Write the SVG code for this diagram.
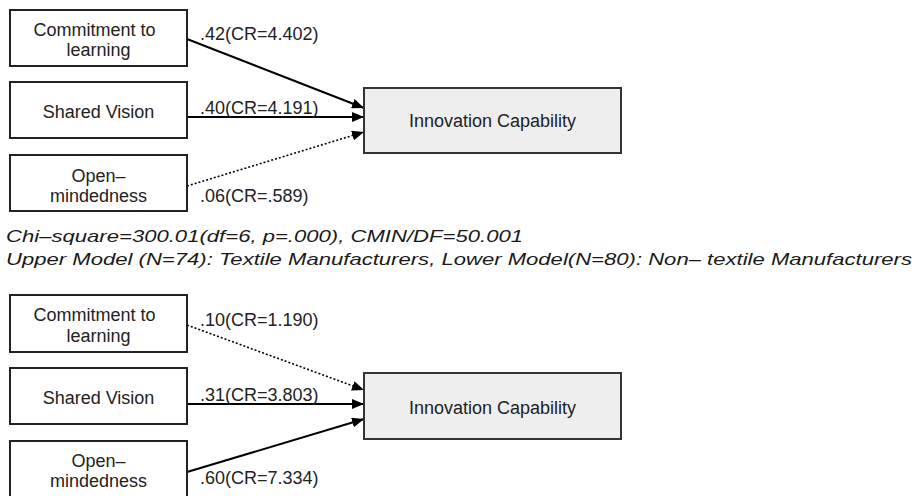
<svg xmlns="http://www.w3.org/2000/svg" width="916" height="496" viewBox="0 0 916 496">
<style>
.box{fill:#fff;stroke:#222;stroke-width:2}
.out{fill:#eeeeee;stroke:#333;stroke-width:2}
.t{font-family:"Liberation Sans",Arial,sans-serif;font-size:18px;fill:#222}
.c{text-anchor:middle}
.solid{stroke:#000;stroke-width:2;fill:none}
.dot{stroke:#000;stroke-width:1.6;fill:none;stroke-dasharray:2 2}
.note{font-family:"Liberation Sans",Arial,sans-serif;font-size:17px;font-style:italic;fill:#1a1a1a}
</style>
<defs>
<marker id="ah" viewBox="0 0 12 10" refX="12" refY="5" markerWidth="12" markerHeight="10" markerUnits="userSpaceOnUse" orient="auto">
<path d="M0,0 L12,5 L0,10 Z" fill="#000"/>
</marker>
</defs>
<rect width="916" height="496" fill="#fff"/>

<g id="connectors">
<line class="solid" x1="187" y1="39" x2="364" y2="108" marker-end="url(#ah)"/>
<line class="solid" x1="187" y1="117" x2="364" y2="117" marker-end="url(#ah)"/>
<line class="dot" x1="187" y1="186" x2="364" y2="132" marker-end="url(#ah)"/>
<line class="dot" x1="187" y1="325" x2="364" y2="390" marker-end="url(#ah)"/>
<line class="solid" x1="187" y1="404" x2="364" y2="404" marker-end="url(#ah)"/>
<line class="solid" x1="187" y1="472" x2="364" y2="419" marker-end="url(#ah)"/>
</g>

<g id="labels">
<text class="t" x="200" y="40">.42(CR=4.402)</text>
<text class="t" x="200" y="114">.40(CR=4.191)</text>
<text class="t" x="200" y="202">.06(CR=.589)</text>
<text class="t" x="200" y="326">.10(CR=1.190)</text>
<text class="t" x="200" y="401">.31(CR=3.803)</text>
<text class="t" x="200" y="484">.60(CR=7.334)</text>
</g>

<g id="u-commitment">
<rect class="box" x="10" y="10" width="177" height="56"/>
<text class="t c" x="94.5" y="36">Commitment to</text>
<text class="t c" x="98.5" y="56">learning</text>
</g>
<g id="u-shared">
<rect class="box" x="10" y="82" width="177" height="56"/>
<text class="t c" x="98.5" y="118">Shared Vision</text>
</g>
<g id="u-open">
<rect class="box" x="10" y="155" width="177" height="56"/>
<text class="t c" x="98.5" y="182">Open–</text>
<text class="t c" x="98.5" y="202">mindedness</text>
</g>
<g id="u-innovation">
<rect class="out" x="364" y="88" width="257" height="65"/>
<text class="t c" x="492.5" y="127">Innovation Capability</text>
</g>

<g id="notes">
<text class="note" x="6" y="242" textLength="517" lengthAdjust="spacingAndGlyphs">Chi–square=300.01(df=6, p=.000), CMIN/DF=50.001</text>
<text class="note" x="6" y="265" textLength="906" lengthAdjust="spacingAndGlyphs">Upper Model (N=74): Textile Manufacturers, Lower Model(N=80): Non– textile Manufacturers</text>
</g>

<g id="l-commitment">
<rect class="box" x="10" y="295" width="177" height="57"/>
<text class="t c" x="94.5" y="321">Commitment to</text>
<text class="t c" x="98.5" y="342">learning</text>
</g>
<g id="l-shared">
<rect class="box" x="10" y="368" width="177" height="56"/>
<text class="t c" x="98.5" y="404">Shared Vision</text>
</g>
<g id="l-open">
<rect class="box" x="10" y="441" width="177" height="60"/>
<text class="t c" x="98.5" y="467">Open–</text>
<text class="t c" x="98.5" y="487">mindedness</text>
</g>
<g id="l-innovation">
<rect class="out" x="364" y="373" width="257" height="66"/>
<text class="t c" x="492.5" y="414">Innovation Capability</text>
</g>
</svg>
